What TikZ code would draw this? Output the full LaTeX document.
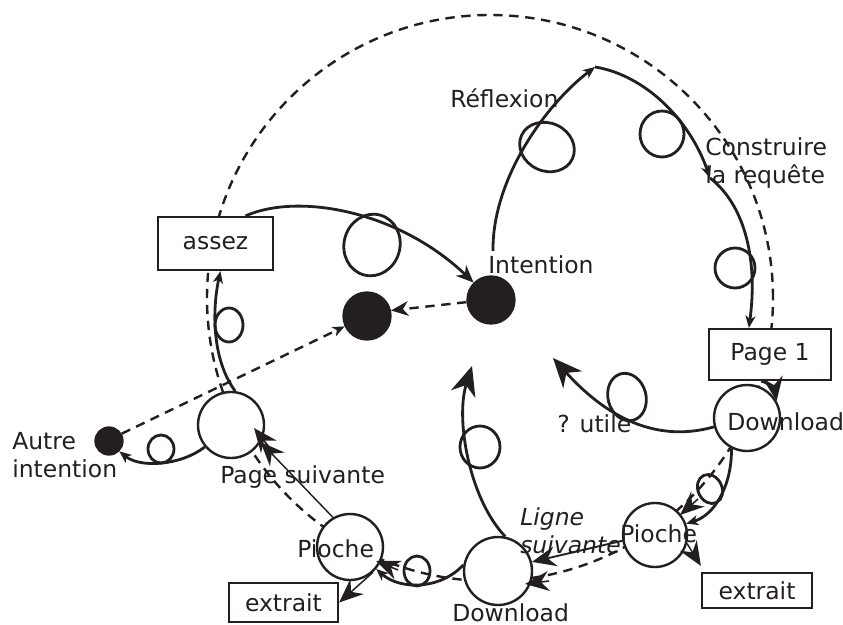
\documentclass[tikz,border=0pt]{standalone}
\usepackage{fontspec}
\setmainfont{DejaVu Sans}
\usetikzlibrary{arrows.meta,calc}
\definecolor{ink}{HTML}{231F20}
\begin{document}
\begin{tikzpicture}[x=0.75pt,y=-0.75pt,
  font=\fontsize{17.6}{20.5}\selectfont, text=ink,
  lbl/.style={inner sep=0pt, anchor=base west},
  mlbl/.style={inner sep=0pt, anchor=base west, align=left},
  state/.style={circle, draw=ink, line width=1.8pt, fill=white, inner sep=0pt, minimum size=#1*0.75pt},
  dot/.style={circle, draw=ink, fill=ink, line width=1pt, inner sep=0pt, minimum size=#1*0.75pt},
  boxnode/.style={rectangle, draw=ink, line width=1.7pt, fill=white, inner sep=0pt},
  flow/.style={draw=ink, line width=2.1pt},
  thinline/.style={draw=ink, line width=1.1pt},
  medline/.style={draw=ink, line width=1.4pt},
  dsh/.style={draw=ink, line width=1.8pt, dash pattern=on 7pt off 5pt},
  tipline/.style={draw=ink, line width=1.2pt},
  smtip/.tip={Stealth[length=9pt,width=7.5pt,inset=2.5pt]},
  medtip/.tip={Stealth[length=13pt,width=11pt,inset=4pt]},
  bigtip/.tip={Stealth[length=18pt,width=15pt,inset=6pt]},
  hugetip/.tip={Stealth[length=22pt,width=19pt,inset=7pt]}
]
\fill[white] (0,0) rectangle (843,625);
\useasboundingbox (0,0) rectangle (843,625);

% big dashed cycle
\coordinate (cc) at (490,298);
\draw[dsh] (cc) circle[radius=212.25pt];

% states
\node[state=66] (ps)  at (231,425) {};
\node[state=66] (piL) at (350,547) {};
\node[state=68] (dlB) at (498,571) {};
\node[state=64] (piR) at (655,535) {};
\node[state=66] (dlR) at (747,418) {};

% dots
\node[dot=48] (intent) at (491,300) {};
\node[dot=48] (other)  at (367,316) {};
\node[dot=28] (autre)  at (109,441) {};

% boxes
\node[boxnode, minimum width=115*0.75pt, minimum height=53*0.75pt] (assez) at (215.5,243.5) {assez};
\node[boxnode, minimum width=122*0.75pt, minimum height=51*0.75pt] (page1) at (770,354.5) {Page 1};
\node[boxnode, minimum width=109*0.75pt, minimum height=39*0.75pt] (exL) at (283.5,602.5) {extrait};
\node[boxnode, minimum width=110*0.75pt, minimum height=35*0.75pt] (exR) at (757,590.5) {extrait};

% labels (multi-line labels are placed by their last baseline)
\node[lbl] (lRefl) at (450,107) {Réflexion};
\node[mlbl] (lCons) at (705,183) {Construire\\la requête};
\node[lbl] (lInt) at (488,273) {Intention};
\node[lbl] (lUtile) at (557,432) {? utile};
\node[mlbl] (lAutre) at (12,477) {Autre\\intention};
\node[lbl] (lPS) at (220,483) {Page suivante};
\node[lbl] (lPiL) at (297,557) {Pioche};
\node[lbl] (lPiR) at (620,542) {Pioche};
\node[lbl] (lDlR) at (727,430) {Download};
\node[lbl] (lDlB) at (452,621) {Download};
\node[mlbl, font=\fontsize{17.6}{20.5}\selectfont\itshape] (lLig) at (520,553) {Ligne\\suivante};

% free ends
\coordinate (top)  at (595,67);
\coordinate (mid)  at (710,178);
\coordinate (utip) at (553,358);
\coordinate (htip) at (472,366);

% solid flows
\draw[flow,-{smtip}] ($(lInt.north west)+(5,-4)$) .. controls (492,180) and (545,105) .. (top);
\draw[flow,-{smtip}] (top) .. controls (645,75) and (690,120) .. (mid);
\draw[flow,-{smtip}] (mid) .. controls (745,205) and (758,260) .. ($(page1.north west)!0.33!(page1.north east)$);
\draw[flow,-{bigtip}] ($(page1.south west)!0.43!(page1.south east)$) .. controls (770,383) and (775,391) .. (dlR.30);
\draw[flow,-{hugetip}] (dlR.195) .. controls (650,445) and (600,410) .. (utip);
\draw[flow,-{smtip}] (dlR.243) .. controls (732,485) and (715,515) .. (piR.20);
\draw[medline,-{bigtip}] (piR.190) -- (dlB.15);
\draw[thinline,-{bigtip}] (piR.-15) -- ($(exR.north west)+(0,-6)$);
\draw[flow,-{hugetip}] (dlB.78) .. controls (470,500) and (455,420) .. (htip);
\draw[flow,-{smtip}] (dlB.170) .. controls (440,590) and (400,590) .. (piL.320);
\draw[thinline,-{bigtip}] (piL.312) -- (exL.east);
\draw[thinline,-{bigtip}] (piL.120) -- (ps.-30);
\draw[flow,-{smtip}] (ps.220) .. controls (180,466) and (140,468) .. (autre.-45);
\draw[flow,-{smtip}] (ps.83) .. controls (212,360) and (212,310) .. ($(assez.south)+(5,0)$);
\draw[flow,-{medtip}] ($(assez.north)+(30,0)$) .. controls (300,192) and (400,212) .. (intent.135);

% dashed flows
\draw[dsh,-{smtip}] (autre.30) -- (other.205);
\draw[dsh,-{medtip}] (intent.185) -- (other.13);

% arrowheads on the dashed cycle
\coordinate (da1) at (698,499); \coordinate (db1) at (680,515);
\coordinate (da2) at (549,581); \coordinate (db2) at (525,584);
\coordinate (da3) at (398,570); \coordinate (db3) at (376,561);
\coordinate (da4) at (269,447); \coordinate (db4) at (254,428);
\draw[tipline,-{bigtip}] (da1) -- (db1);
\draw[tipline,-{bigtip}] (da2) -- (db2);
\draw[tipline,-{bigtip}] (da3) -- (db3);
\draw[tipline,-{bigtip}] (da4) -- (db4);

% loops
\draw[flow, rotate around={-25:(547,147)}] (547,147) ellipse[x radius=28,y radius=24];
\draw[flow] (662,134) ellipse[x radius=22,y radius=23];
\draw[flow] (735,268) ellipse[x radius=20,y radius=20];
\draw[flow, rotate around={15:(627,397)}] (627,397) ellipse[x radius=19,y radius=24];
\draw[flow, rotate around={25:(710,489)}] (710,489) ellipse[x radius=12,y radius=15];
\draw[flow] (480,447) ellipse[x radius=20,y radius=21];
\draw[flow] (417,571) ellipse[x radius=13,y radius=15];
\draw[flow] (161,449) ellipse[x radius=13,y radius=14];
\draw[flow] (229,325) ellipse[x radius=14,y radius=17];
\draw[flow, rotate around={-15:(372,245)}] (372,245) ellipse[x radius=28,y radius=31];
\end{tikzpicture}
\end{document}
